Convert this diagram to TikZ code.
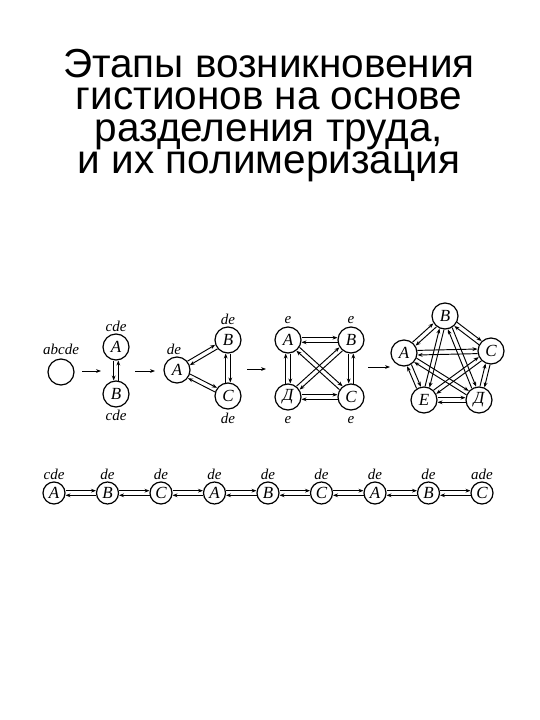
\documentclass[tikz,border=0pt]{standalone}
\usepackage{fontspec}
\setmainfont{Liberation Serif}
\newfontfamily\titlefont{Liberation Sans}
\usetikzlibrary{positioning,calc,arrows.meta}
\tikzset{
cell/.style={circle, draw=black, line width=1.2pt, minimum size=26pt, inner sep=0pt, font=\fontsize{17}{17}\selectfont\itshape},
chaincell/.style={cell, minimum size=22pt},
lbl/.style={inner sep=0pt, font=\fontsize{15}{15}\selectfont\itshape},
lane/.style={line width=0.95pt, -{Stealth[length=5pt,width=3.8pt]}, shorten <=13.5pt, shorten >=13.5pt},
stagearrow/.style={line width=0.9pt, -{Stealth[length=5pt,width=3.8pt]}},
titletext/.style={anchor=base, inner sep=0pt, font=\titlefont\fontsize{40.5}{40.5}\selectfont}}

% two opposite arrows side by side between two cells
\newcommand{\dlink}[3][2.3pt]{%
  \draw [lane] ($(#2)!#1!90:(#3)$) -- ($(#3)!#1!-90:(#2)$);
  \draw [lane] ($(#3)!#1!90:(#2)$) -- ($(#2)!#1!-90:(#3)$);}

\begin{document}
\begin{tikzpicture}[x=1pt, y=-1pt]
\useasboundingbox (0,0) rectangle (540,720);

% title
\foreach \t [count=\i] in {Этапы возникновения, гистионов на основе, {разделения труда,}, и их полимеризация}
  \node (title\i) [titletext] at (269,{45+32*\i}) {\t};

% stage 1
\node (Z) [cell] at (61,372) {};
\node (labZ) [lbl, above=3.5pt of Z] {abcde};
\coordinate (s1) at (82,371);
\coordinate (e1) at (101,371);
\node (A1) [cell] at (116,347) {A};
\node (B1) [cell] at (116,394) {B};
\node (labA1) [lbl, above=1.5pt of A1] {cde};
\node (labB1) [lbl, below=2.5pt of B1] {cde};
\coordinate (s2) at (135,371);
\coordinate (e2) at (155,371);

% stage 2
\node (A2) [cell] at (177,370) {A};
\node (B2) [cell] at (228,340) {B};
\node (C2) [cell] at (228,396) {C};
\node (labA2) [lbl, above=1.5pt of A2, xshift=-3pt] {de};
\node (labB2) [lbl, above=1.5pt of B2] {de};
\node (labC2) [lbl, below=3pt of C2] {de};
\coordinate (s3) at (247,369);
\coordinate (e3) at (266,369);

% stage 3
\node (A3) [cell] at (288,340) {A};
\node (B3) [cell] at (351,340) {B};
\node (D3) [cell] at (288,397) {Д};
\node (C3) [cell] at (351,397) {C};
\node (labA3) [lbl, above=3pt of A3] {e};
\node (labB3) [lbl, above=3pt of B3] {e};
\node (labD3) [lbl, below=6pt of D3] {e};
\node (labC3) [lbl, below=6pt of C3] {e};
\coordinate (s4) at (368,367);
\coordinate (e4) at (390,367);

% stage 4
\node (B4) [cell] at (445,316) {B};
\node (A4) [cell] at (404,353) {A};
\node (C4) [cell] at (491,351) {C};
\node (E4) [cell] at (424,400) {E};
\node (D4) [cell] at (479,400) {Д};

\draw [stagearrow] (s1) -- (e1);
\draw [stagearrow] (s2) -- (e2);
\draw [stagearrow] (s3) -- (e3);
\draw [stagearrow] (s4) -- (e4);

\dlink[-2.3pt]{A1}{B1}
\dlink{A2}{B2}
\dlink{A2}{C2}
\dlink{B2}{C2}
\dlink{A3}{B3}
\dlink{A3}{D3}
\dlink[-2.3pt]{B3}{C3}
\dlink{D3}{C3}
\dlink{A3}{C3}
\dlink{B3}{D3}
\foreach \p/\q in {A4/B4, B4/C4, C4/D4, E4/D4, A4/E4, A4/C4, A4/D4, B4/E4, B4/D4, E4/C4}
  {\dlink{\p}{\q}}

% polymer chain
\foreach \l [count=\i] in {A,B,C,A,B,C,A,B,C}
  \node (r\i) [chaincell] at ({54+53.5*(\i-1)},493) {\l};
\foreach \t [count=\i] in {cde,de,de,de,de,de,de,de,ade}
  \node (labr\i) [lbl, above=1.5pt of r\i] {\t};
\begin{scope}[lane/.append style={shorten <=11.5pt, shorten >=11.5pt}]
\foreach \i in {1,...,8} {
  \pgfmathtruncatemacro{\j}{\i+1}
  \dlink{r\i}{r\j}
}
\end{scope}
\end{tikzpicture}
\end{document}
